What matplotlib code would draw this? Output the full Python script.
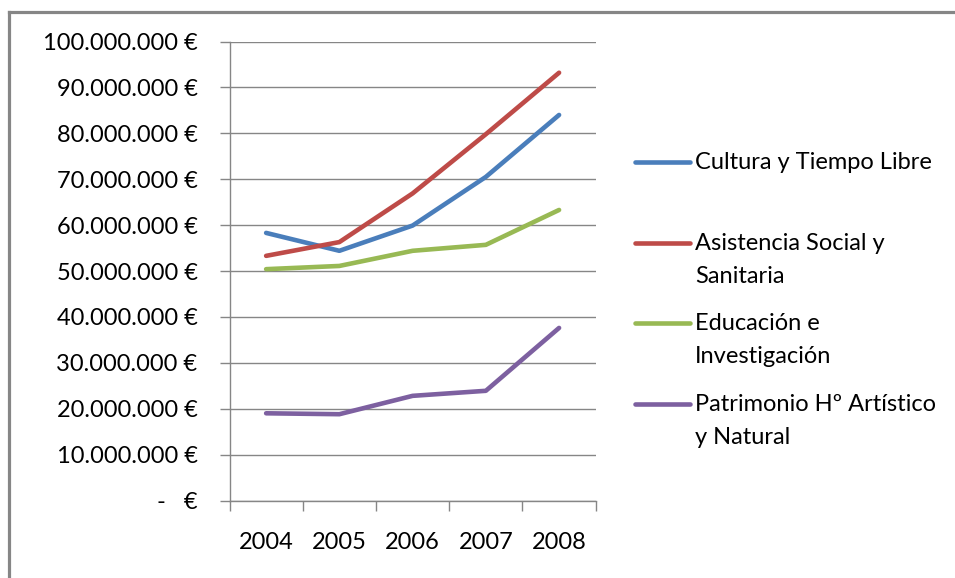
import matplotlib.pyplot as plt
from matplotlib.lines import Line2D
from matplotlib.ticker import FuncFormatter, MultipleLocator

years = ["2004", "2005", "2006", "2007", "2008"]
series_names = [
    "Cultura y Tiempo Libre",
    "Asistencia Social y\nSanitaria",
    "Educación e\nInvestigación",
    "Patrimonio Hº Artístico\ny Natural",
]
cultura = [58.3e6, 54.4e6, 59.9e6, 70.5e6, 84.0e6]
asistencia = [53.3e6, 56.3e6, 66.9e6, 79.8e6, 93.2e6]
educacion = [50.4e6, 51.1e6, 54.4e6, 55.7e6, 63.3e6]
patrimonio = [19.0e6, 18.8e6, 22.8e6, 23.9e6, 37.6e6]
colors = ["#4A7EBB", "#BE4B48", "#98B954", "#7D60A0"]

W, H = 955, 578
FS = 17
plt.rcParams["font.family"] = ["Lato", "DejaVu Sans"]

fig = plt.figure(figsize=(W / 100, H / 100), dpi=100)
ax = fig.add_axes([229.5 / W, 1 - 500.5 / H, 366.2 / W, 459 / H])


def euro(v, _pos):
    if v == 0:
        return "-   €"
    return f"{int(v):,} €".replace(",", ".")


x = [i + 0.5 for i in range(len(years))]
for vals, c in zip([cultura, asistencia, educacion, patrimonio], colors):
    ax.plot(x, vals, color=c, lw=3.3, solid_capstyle="round", zorder=3)

ax.set_xlim(0, len(years))
ax.set_ylim(0, 100e6)
ax.yaxis.set_major_locator(MultipleLocator(10e6))
ax.yaxis.set_major_formatter(FuncFormatter(euro))
ax.set_xticks(range(len(years) + 1))
ax.set_xticklabels([])
ax.set_xticks(x, minor=True)
ax.set_xticklabels(years, minor=True, fontsize=FS)
ax.tick_params(axis="x", which="minor", length=0, pad=23)
ax.tick_params(axis="x", which="major", length=7, color="#868686", width=1)
ax.tick_params(axis="y", length=7, color="#868686", width=1, labelsize=FS, pad=16)
ax.grid(axis="y", color="#868686", lw=1)
ax.set_axisbelow(True)
for side in ["top", "right"]:
    ax.spines[side].set_visible(False)
for side in ["left", "bottom"]:
    ax.spines[side].set_color("#868686")
    ax.spines[side].set_linewidth(1)

# legend drawn by hand so the wrapped labels sit like the original
leg_y = [162.3, 243.3, 322.7, 404.3]
for name, c, ly in zip(series_names, colors, leg_y):
    fy = 1 - ly / H
    fig.add_artist(Line2D([635 / W, 690 / W], [fy, fy], color=c, lw=3.3,
                          solid_capstyle="round"))
    for k, part in enumerate(name.split("\n")):
        fig.text(695 / W, 1 - (ly + 7 + 33 * k) / H, part, fontsize=FS,
                 va="baseline", ha="left")

# frame lines on top and left of the chart area
fig.add_artist(Line2D([8.5 / W, 1], [1 - 11.5 / H] * 2, color="#868686", lw=2.3))
fig.add_artist(Line2D([8.5 / W] * 2, [0, 1 - 11.5 / H], color="#868686", lw=2.3))

fig.savefig("out.png", dpi=100)
